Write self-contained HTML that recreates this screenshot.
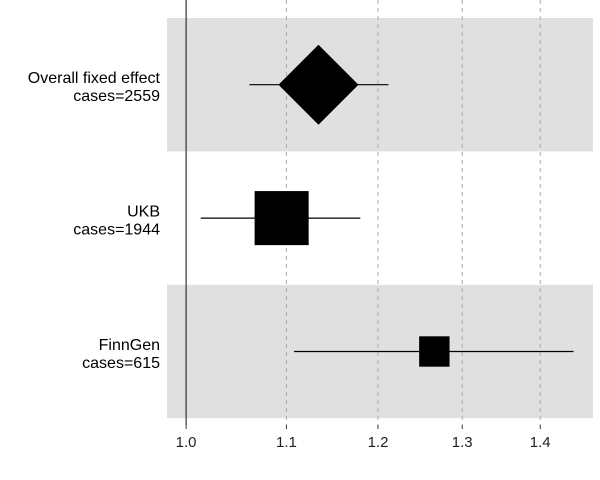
<!DOCTYPE html>
<html><head><meta charset="utf-8"><style>
html,body{margin:0;padding:0;background:#fff;}
svg{display:block;font-family:"Liberation Sans",sans-serif;}
</style></head><body>
<svg id="chart" width="600" height="480"></svg>
<script>
const labels = ["Overall fixed effect", "UKB", "FinnGen"];
const cases = [2559, 1944, 615];
const estimates = [1.134, 1.095, 1.266];
const lowers = [1.062, 1.014, 1.108];
const uppers = [1.212, 1.180, 1.445];
const weights = [1.0, 0.76, 0.24];
const tickValues = [1.0, 1.1, 1.2, 1.3, 1.4];

const NS = "http://www.w3.org/2000/svg";
const svgEl = document.getElementById("chart");
const x0 = 167, x1 = 593, dMin = 0.982, dMax = 1.472;
const xs = v => x0 + (Math.log(v) - Math.log(dMin)) / (Math.log(dMax) - Math.log(dMin)) * (x1 - x0);
const plotTop = 18, rowH = 133.4;
const ys = i => plotTop + rowH * i + rowH / 2;
function mk(tag, attrs, parent) {
  const e = document.createElementNS(NS, tag);
  for (const k in attrs) e.setAttribute(k, attrs[k]);
  (parent || svgEl).appendChild(e);
  return e;
}
labels.forEach((l, i) => {
  if (i % 2 === 0) {
    const b = mk("rect", {x: x0, y: plotTop + rowH * i, width: x1 - x0, height: rowH, fill: "#e0e0e0"});
    
    
  }
});
tickValues.forEach(t => {
  if (t === 1.0) return;
  const g = mk("line", {x1: xs(t), x2: xs(t), y1: 0, y2: 425, stroke: "#aaa", "stroke-dasharray": "4,4", "stroke-width": 1});
  
  
});
const ref = mk("line", {x1: xs(1), x2: xs(1), y1: 0, y2: 425, stroke: "#333", "stroke-width": 1.2});


tickValues.forEach(t => {
  const tk = mk("line", {x1: xs(t), x2: xs(t), y1: 425, y2: 429, stroke: "#333"});
  
  
  const tl = mk("text", {x: xs(t), y: 447, "text-anchor": "middle", "font-size": 15, fill: "#222"});
  tl.textContent = t.toFixed(1);
  
  
});
labels.forEach((l, i) => {
  const y = ys(i);
  const ci = mk("line", {x1: xs(lowers[i]), x2: xs(uppers[i]), y1: y, y2: y, stroke: "#000", "stroke-width": 1.2});
  
  
  const cx = xs(estimates[i]);
  if (i === 0) {
    const h = 40;
    const d = mk("polygon", {points: `${cx-h},${y} ${cx},${y-h} ${cx+h},${y} ${cx},${y+h}`, fill: "#000"});
    
    
  } else {
    const s = 62 * Math.sqrt(weights[i]);
    const r = mk("rect", {x: cx - s/2, y: y - s/2, width: s, height: s, fill: "#000"});
    
    
  }
  const t1 = mk("text", {x: 160, y: y - 1.5, "text-anchor": "end", "font-size": 16, fill: "#000"});
  t1.textContent = l;
  
  
  const t2 = mk("text", {x: 160, y: y + 16.5, "text-anchor": "end", "font-size": 16, fill: "#000"});
  t2.textContent = "cases=" + cases[i];
  
  
});
</script>
</body></html>
